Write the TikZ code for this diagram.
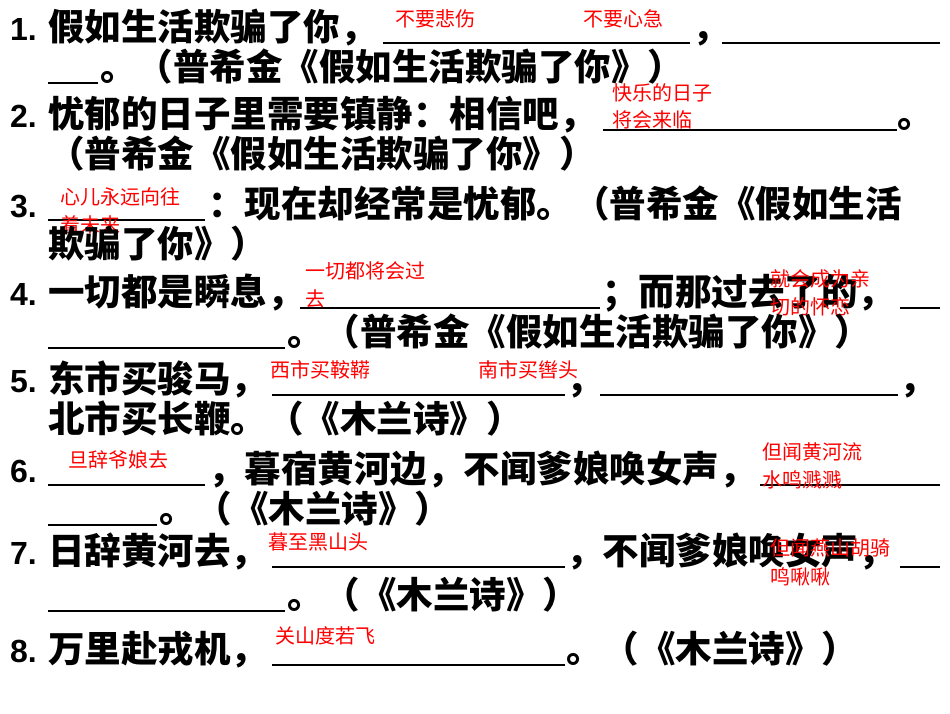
\documentclass[tikz,border=0pt]{standalone}
\usepackage{fontspec}
\setmainfont{Liberation Sans}
\newfontfamily\cjk{Noto Sans CJK SC}
\begin{document}
\begin{tikzpicture}[x=1pt,y=-1pt,
  t/.style={anchor=base west,inner sep=0pt,font=\cjk\bfseries\fontsize{36.5}{36.5}\selectfont},
  n/.style={anchor=base west,inner sep=0pt,font=\bfseries\fontsize{32}{32}\selectfont},
  r/.style={anchor=base west,inner sep=0pt,text=red,font=\cjk\fontsize{20}{20}\selectfont},
  u/.style={line width=1.2pt}]
\useasboundingbox[fill=white] (0,0) rectangle (950,713);
% 1
\node[n] (n1) at (10,40) {1.};
\node[t] (a1) at (48,40) {假如生活欺骗了你，};
\draw[u] (383,43) coordinate (u1a) -- (690,43) coordinate (u1b);
\node[t] (a1b) at (692,40) {，};
\draw[u] (722,43) coordinate (u1c) -- (940,43) coordinate (u1d);
\node[r] (r1a) at (395,26) {不要悲伤};
\node[r] (r1b) at (583,26) {不要心急};
\draw[u] (48,83) coordinate (u1e) -- (98,83) coordinate (u1f);
\node[t] (a1c) at (100,80) {。（普希金《假如生活欺骗了你》）};
% 2
\node[n] (n2) at (10,127) {2.};
\node[t] (a2) at (48,127) {忧郁的日子里需要镇静：相信吧，};
\draw[u] (603,130) coordinate (u2a) -- (897,130) coordinate (u2b);
\node[t] (a2b) at (897,127) {。};
\node[r] (r2a) at (612,100) {快乐的日子};
\node[r] (r2b) at (612,127) {将会来临};
\node[t] (a2c) at (48,167) {（普希金《假如生活欺骗了你》）};
% 3
\node[n] (n3) at (10,217) {3.};
\draw[u] (48,220) coordinate (u3a) -- (205,220) coordinate (u3b);
\node[t] (a3) at (208,217) {：现在却经常是忧郁。（普希金《假如生活};
\node[r] (r3a) at (60,204) {心儿永远向往};
\node[r] (r3b) at (60,232) {着未来};
\node[t] (a3b) at (48,257) {欺骗了你》）};
% 4
\node[n] (n4) at (10,305) {4.};
\node[t] (a4) at (48,305) {一切都是瞬息，};
\draw[u] (300,308) coordinate (u4a) -- (600,308) coordinate (u4b);
\node[t] (a4b) at (602,305) {；而那过去了的，};
\draw[u] (900,308) coordinate (u4c) -- (940,308) coordinate (u4d);
\node[r] (r4a) at (305,278) {一切都将会过};
\node[r] (r4b) at (305,306) {去};
\node[r] (r4c) at (770,286) {就会成为亲};
\node[r] (r4d) at (770,314) {切的怀恋};
\draw[u] (48,348) coordinate (u4e) -- (285,348) coordinate (u4f);
\node[t] (a4c) at (287,345) {。（普希金《假如生活欺骗了你》）};
% 5
\node[n] (n5) at (10,392) {5.};
\node[t] (a5) at (48,392) {东市买骏马，};
\draw[u] (272,395) coordinate (u5a) -- (565,395) coordinate (u5b);
\node[t] (a5b) at (566,392) {，};
\draw[u] (600,395) coordinate (u5c) -- (898,395) coordinate (u5d);
\node[t] (a5c) at (899,392) {，};
\node[r] (r5a) at (270,377) {西市买鞍鞯};
\node[r] (r5b) at (478,377) {南市买辔头};
\node[t] (a5d) at (48,432) {北市买长鞭。（《木兰诗》）};
% 6
\node[n] (n6) at (10,482) {6.};
\draw[u] (48,485) coordinate (u6a) -- (205,485) coordinate (u6b);
\node[t] (a6) at (208,482) {，暮宿黄河边，不闻爹娘唤女声，};
\draw[u] (760,485) coordinate (u6c) -- (940,485) coordinate (u6d);
\node[r] (r6a) at (68,467) {旦辞爷娘去};
\node[r] (r6b) at (762,459) {但闻黄河流};
\node[r] (r6c) at (762,487) {水鸣溅溅};
\draw[u] (48,525) coordinate (u6e) -- (157,525) coordinate (u6f);
\node[t] (a6b) at (159,522) {。（《木兰诗》）};
% 7
\node[n] (n7) at (10,564) {7.};
\node[t] (a7) at (48,564) {日辞黄河去，};
\draw[u] (272,567) coordinate (u7a) -- (565,567) coordinate (u7b);
\node[t] (a7b) at (566,564) {，不闻爹娘唤女声，};
\draw[u] (900,567) coordinate (u7c) -- (940,567) coordinate (u7d);
\node[r] (r7a) at (268,549) {暮至黑山头};
\node[r] (r7b) at (770,555) {但闻燕山胡骑};
\node[r] (r7c) at (770,584) {鸣啾啾};
\draw[u] (48,611) coordinate (u7e) -- (285,611) coordinate (u7f);
\node[t] (a7c) at (287,608) {。（《木兰诗》）};
% 8
\node[n] (n8) at (10,662) {8.};
\node[t] (a8) at (48,662) {万里赴戎机，};
\draw[u] (272,665) coordinate (u8a) -- (565,665) coordinate (u8b);
\node[t] (a8b) at (566,662) {。（《木兰诗》）};
\node[r] (r8a) at (275,643) {关山度若飞};
\end{tikzpicture}
\end{document}
